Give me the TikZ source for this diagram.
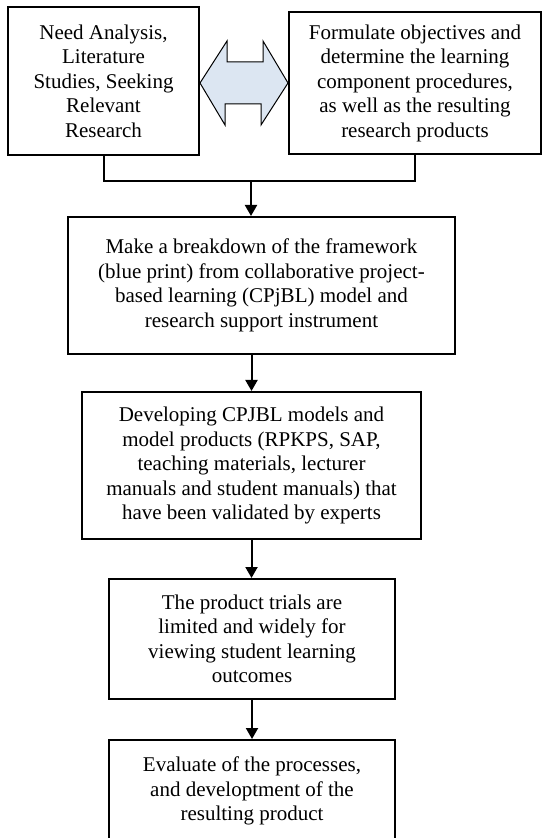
\documentclass[tikz,border=0pt]{standalone}
\usepackage{fontspec}
\setmainfont{Liberation Serif}
\usetikzlibrary{arrows.meta,positioning,calc}
\definecolor{pblue}{HTML}{DCE6F2}
\tikzset{
  % plain rectangle holding one stage of the procedure
  stage/.style  = {rectangle, draw=black, line width=1pt, align=center, inner sep=0pt,
                   font=\fontsize{10.5}{12.25}\selectfont},
  arr/.style    = {-{Triangle[width=6pt,length=5.5pt]}, line width=1pt},
  lane/.style   = {line width=1pt},
  twoway/.style = {draw=black, fill=pblue, line width=0.5pt, line join=miter},
}

\begin{document}
\begin{tikzpicture}[x=0.5pt,y=-0.5pt]
\clip (0,0) rectangle (543,838);
% top pair
\node[stage, minimum width=95.5pt, minimum height=74pt] (need) at (103.5,81)
  {Need Analysis,\\Literature\\Studies, Seeking\\Relevant\\Research};
\node[stage, minimum width=126pt, minimum height=71pt] (goals) at (415,83)
  {Formulate objectives and\\determine the learning\\component procedures,\\as well as the resulting\\research products};
\draw[twoway] (need.east |- goals.west) -- ++(27,-42) -- ++(0,21) -- ++(36,0) -- ++(0,-21)
  -- (goals.west) -- ++(-27,42) -- ++(0,-21) -- ++(-36,0) -- ++(0,21) -- cycle;
% stages
\node[stage, minimum width=193.5pt, minimum height=68.5pt] (plan) at (261.5,285.5)
  {Make a breakdown of the framework\\(blue print) from collaborative project-\\based learning (CPjBL) model and\\research support instrument};
\node[stage, minimum width=169.5pt, minimum height=73.5pt] (develop) at (251.5,465.5)
  {Developing CPJBL models and\\model products (RPKPS, SAP,\\teaching materials, lecturer\\manuals and student manuals) that\\have been validated by experts};
\node[stage, minimum width=143pt, minimum height=60pt] (trial) at (252,639)
  {The product trials are\\limited and widely for\\viewing student learning\\outcomes};
\node[stage, minimum width=143pt, minimum height=51pt] (evaluate) at (252,791)
  {Evaluate of the processes,\\and developtment of the\\resulting product};
% connectors
\coordinate (join) at (251,181);
\draw[lane] (need.south) |- (join) -| (goals.south);
\draw[arr] (join) -- (join |- plan.north);
\draw[arr] (plan.south -| develop.north) -- (develop.north);
\draw[arr] (develop.south) -- (develop.south |- trial.north);
\draw[arr] (trial.south) -- (evaluate.north);
\end{tikzpicture}
\end{document}
